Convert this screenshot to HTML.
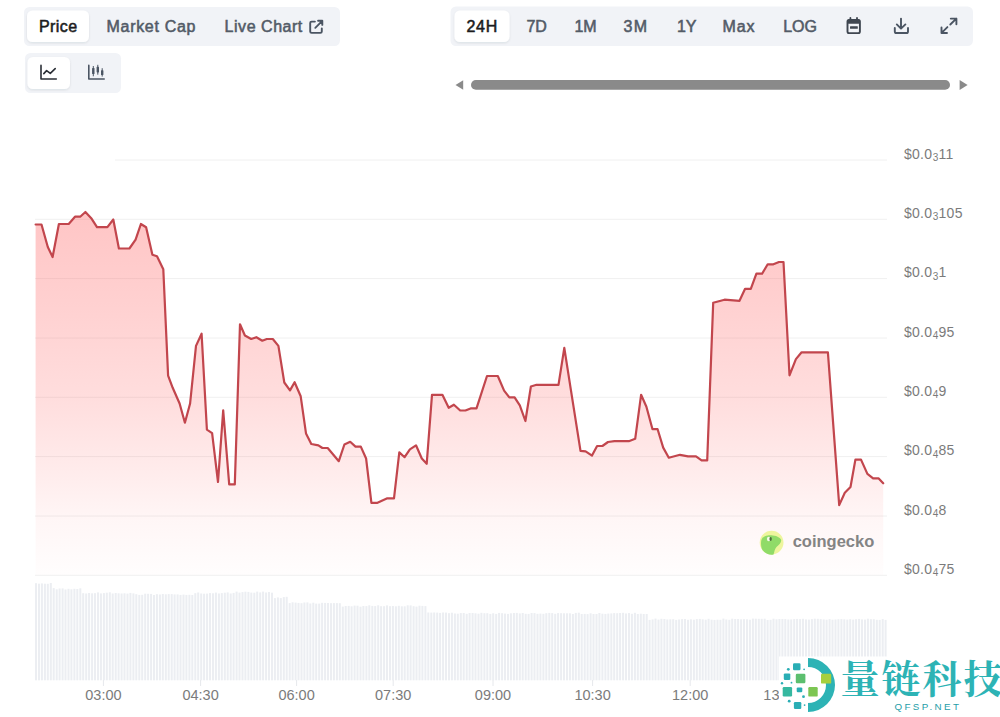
<!DOCTYPE html>
<html>
<head>
<meta charset="utf-8">
<style>
html,body{margin:0;padding:0;background:#fff;}
body{width:1000px;height:717px;overflow:hidden;position:relative;font-family:"Liberation Sans",Arial,sans-serif;}
svg{position:absolute;left:0;top:0;}
.btn{font-size:16px;font-weight:normal;fill:#535b67;stroke:#535b67;stroke-width:0.55px;}
.btn.on{fill:#1c1c1e;stroke:#1c1c1e;}
.ax{font-size:14px;fill:#7b7b7b;letter-spacing:0.25px;}
.ax .sub{font-size:10px;}
.tx{font-size:14.5px;fill:#7b7b7b;}
</style>
</head>
<body>
<svg width="1000" height="717" viewBox="0 0 1000 717">
<defs>
<filter id="sh" x="-20%" y="-30%" width="140%" height="160%">
<feDropShadow dx="0" dy="1" stdDeviation="1.2" flood-color="#1f2937" flood-opacity="0.10"/>
</filter>
<linearGradient id="ag" gradientUnits="userSpaceOnUse" x1="0" y1="212" x2="0" y2="575">
<stop offset="0" stop-color="#ff5050" stop-opacity="0.33"/>
<stop offset="0.24" stop-color="#ff5050" stop-opacity="0.27"/>
<stop offset="0.52" stop-color="#ff5050" stop-opacity="0.19"/>
<stop offset="0.74" stop-color="#ff5050" stop-opacity="0.10"/>
<stop offset="0.85" stop-color="#ff5050" stop-opacity="0.05"/>
<stop offset="1" stop-color="#ff5050" stop-opacity="0.01"/>
</linearGradient>
</defs>

<!-- top-left tab group -->
<rect x="24" y="7" width="316" height="39" rx="5.5" fill="#f1f3f7"/>
<rect x="27" y="10.5" width="62" height="31.5" rx="5.5" fill="#fff" filter="url(#sh)"/>
<text class="btn on" x="39" y="32" letter-spacing="0.4">Price</text>
<text class="btn" x="106.5" y="32" letter-spacing="0.7">Market Cap</text>
<text class="btn" x="224.6" y="32" letter-spacing="0.53">Live Chart</text>
<g fill="none" stroke="#4b5563" stroke-width="1.9" stroke-linecap="round" stroke-linejoin="round">
<path d="M314.9 21.6 H311.6 Q310.2 21.6 310.2 23 V31.5 Q310.2 32.9 311.6 32.9 H320.4 Q321.8 32.9 321.8 31.5 V28.5"/>
<path d="M315.3 27.8 L322 21.1 M318.1 20.7 H322.3 V24.9"/>
</g>

<!-- chart type group -->
<rect x="25" y="53" width="96" height="40" rx="5.5" fill="#f1f3f7"/>
<rect x="27.5" y="57" width="42.5" height="32" rx="5.5" fill="#fff" filter="url(#sh)"/>
<g fill="none" stroke="#2b2f36" stroke-width="1.6" stroke-linecap="round" stroke-linejoin="round">
<path d="M41 65.4 V79 H56.3"/>
<path d="M43.8 73.6 L46.6 70.6 L50.3 73.4 L55.2 68.6"/>
</g>
<g fill="none" stroke="#4b5563" stroke-width="1.6" stroke-linecap="round" stroke-linejoin="round">
<path d="M88.8 65.4 V79 H104.2"/>
<path d="M93.3 66.4 V75.9 M97.8 65.2 V74.3 M102.2 68.6 V76.2" stroke-width="1"/>
</g>
<g fill="#4b5563">
<rect x="92.1" y="68" width="2.4" height="6" rx="0.6"/>
<rect x="96.6" y="66.8" width="2.4" height="5.6" rx="0.6"/>
<rect x="101" y="70.2" width="2.4" height="4.8" rx="0.6"/>
</g>

<!-- time range group -->
<rect x="450.5" y="6.5" width="522.5" height="39.5" rx="5.5" fill="#f1f3f7"/>
<rect x="454.5" y="10.5" width="55" height="31.5" rx="5.5" fill="#fff" filter="url(#sh)"/>
<text class="btn on" x="466.4" y="32" letter-spacing="0.8">24H</text>
<text class="btn" x="526.4" y="32">7D</text>
<text class="btn" x="574.4" y="32">1M</text>
<text class="btn" x="623.6" y="32" letter-spacing="1.2">3M</text>
<text class="btn" x="676.9" y="32">1Y</text>
<text class="btn" x="722.5" y="32" letter-spacing="0.9">Max</text>
<text class="btn" x="783.2" y="32">LOG</text>
<!-- calendar -->
<g fill="#3f4650" stroke="#3f4650" stroke-linecap="round" stroke-linejoin="round">
<rect x="847.5" y="20" width="12.4" height="13.1" rx="1.6" fill="none" stroke-width="1.9"/>
<rect x="847.5" y="19.6" width="12.4" height="4.2" rx="1.2" stroke="none"/>
<path d="M850.4 18 V20.5 M857 18 V20.5" stroke-width="1.8" fill="none"/>
<rect x="850" y="26.2" width="7.8" height="2.6" rx="0.5" stroke="none"/>
</g>
<!-- download -->
<g fill="none" stroke="#4b5563" stroke-width="1.9" stroke-linecap="round" stroke-linejoin="round">
<path d="M901 18.6 V28.4 M896.8 24.4 L901 28.6 L905.4 24.4"/>
<path d="M894.8 28 V31.4 Q894.8 33 896.4 33 H906.4 Q908 33 908 31.4 V28"/>
</g>
<!-- expand -->
<g fill="none" stroke="#4b5563" stroke-width="1.9" stroke-linecap="round" stroke-linejoin="round">
<path d="M950.3 24.5 L956.3 18.6 M950.8 18.6 H956.4 V24.2"/>
<path d="M941.6 32.9 L947.4 27.1 M941.5 27.4 V33 H947"/>
</g>

<!-- scrollbar -->
<path d="M455.5 85 L463.2 80.2 V89.8 Z" fill="#8a8a8a"/>
<rect x="471" y="80" width="479" height="9.8" rx="4.9" fill="#8a8a8a"/>
<path d="M967.6 85 L959.6 80 V90 Z" fill="#8a8a8a"/>

<!-- grid -->
<g stroke="#f0f0f0" stroke-width="1"><line x1="115" x2="887" y1="160" y2="160"/><line x1="35" x2="887" y1="219.3" y2="219.3"/><line x1="35" x2="887" y1="278.6" y2="278.6"/><line x1="35" x2="887" y1="338" y2="338"/><line x1="35" x2="887" y1="397.3" y2="397.3"/><line x1="35" x2="887" y1="456.6" y2="456.6"/><line x1="35" x2="887" y1="516" y2="516"/><line x1="35" x2="887" y1="575.3" y2="575.3"/></g>

<!-- volume -->
<g fill="#eceef2"><rect x="35" y="583.2" width="2.0" height="97.1"/><rect x="38" y="583.7" width="2.0" height="96.6"/><rect x="40.9" y="583.4" width="2.0" height="96.9"/><rect x="43.9" y="583.7" width="2.0" height="96.6"/><rect x="46.8" y="583.8" width="2.0" height="96.5"/><rect x="49.8" y="583" width="2.0" height="97.3"/><rect x="52.7" y="588.1" width="2.0" height="92.2"/><rect x="55.7" y="589.3" width="2.0" height="91"/><rect x="58.6" y="588.5" width="2.0" height="91.8"/><rect x="61.6" y="588.4" width="2.0" height="91.9"/><rect x="64.5" y="589.5" width="2.0" height="90.8"/><rect x="67.5" y="588.8" width="2.0" height="91.5"/><rect x="70.4" y="589.3" width="2.0" height="91"/><rect x="73.4" y="588.8" width="2.0" height="91.5"/><rect x="76.3" y="589" width="2.0" height="91.3"/><rect x="79.3" y="588.3" width="2.0" height="92"/><rect x="82.2" y="593.2" width="2.0" height="87.1"/><rect x="85.2" y="593.5" width="2.0" height="86.8"/><rect x="88.1" y="593" width="2.0" height="87.3"/><rect x="91.1" y="593.3" width="2.0" height="87"/><rect x="94" y="593.2" width="2.0" height="87.1"/><rect x="97" y="592.4" width="2.0" height="87.9"/><rect x="99.9" y="593.4" width="2.0" height="86.9"/><rect x="102.9" y="593.1" width="2.0" height="87.2"/><rect x="105.8" y="592.7" width="2.0" height="87.6"/><rect x="108.8" y="592.3" width="2.0" height="88"/><rect x="111.7" y="593.5" width="2.0" height="86.8"/><rect x="114.7" y="593" width="2.0" height="87.3"/><rect x="117.6" y="593.3" width="2.0" height="87"/><rect x="120.6" y="593.5" width="2.0" height="86.8"/><rect x="123.5" y="593.3" width="2.0" height="87"/><rect x="126.5" y="593.6" width="2.0" height="86.7"/><rect x="129.4" y="592.9" width="2.0" height="87.4"/><rect x="132.4" y="593.4" width="2.0" height="86.9"/><rect x="135.3" y="594.2" width="2.0" height="86.1"/><rect x="138.3" y="594.9" width="2.0" height="85.4"/><rect x="141.2" y="594.8" width="2.0" height="85.5"/><rect x="144.2" y="593.7" width="2.0" height="86.6"/><rect x="147.1" y="593.8" width="2.0" height="86.5"/><rect x="150.1" y="593.9" width="2.0" height="86.4"/><rect x="153" y="595" width="2.0" height="85.3"/><rect x="155.9" y="594.2" width="2.0" height="86.1"/><rect x="158.9" y="594.5" width="2.0" height="85.8"/><rect x="161.8" y="594" width="2.0" height="86.3"/><rect x="164.8" y="594.3" width="2.0" height="86"/><rect x="167.7" y="594.1" width="2.0" height="86.2"/><rect x="170.7" y="594.1" width="2.0" height="86.2"/><rect x="173.6" y="594.4" width="2.0" height="85.9"/><rect x="176.6" y="594.4" width="2.0" height="85.9"/><rect x="179.5" y="594.9" width="2.0" height="85.4"/><rect x="182.5" y="594.6" width="2.0" height="85.7"/><rect x="185.4" y="594.9" width="2.0" height="85.4"/><rect x="188.4" y="594.8" width="2.0" height="85.5"/><rect x="191.3" y="595" width="2.0" height="85.3"/><rect x="194.3" y="593.2" width="2.0" height="87.1"/><rect x="197.2" y="592.5" width="2.0" height="87.8"/><rect x="200.2" y="593.5" width="2.0" height="86.8"/><rect x="203.1" y="593.7" width="2.0" height="86.6"/><rect x="206.1" y="593.6" width="2.0" height="86.7"/><rect x="209" y="593.1" width="2.0" height="87.2"/><rect x="212" y="593.3" width="2.0" height="87"/><rect x="214.9" y="592.6" width="2.0" height="87.7"/><rect x="217.9" y="593.5" width="2.0" height="86.8"/><rect x="220.8" y="593.1" width="2.0" height="87.2"/><rect x="223.8" y="592.7" width="2.0" height="87.6"/><rect x="226.7" y="592.4" width="2.0" height="87.9"/><rect x="229.7" y="593.5" width="2.0" height="86.8"/><rect x="232.6" y="592.9" width="2.0" height="87.4"/><rect x="235.6" y="591.6" width="2.0" height="88.7"/><rect x="238.5" y="592.6" width="2.0" height="87.7"/><rect x="241.5" y="592.1" width="2.0" height="88.2"/><rect x="244.4" y="591.7" width="2.0" height="88.6"/><rect x="247.4" y="591.9" width="2.0" height="88.4"/><rect x="250.3" y="592.6" width="2.0" height="87.7"/><rect x="253.3" y="592.7" width="2.0" height="87.6"/><rect x="256.2" y="591.6" width="2.0" height="88.7"/><rect x="259.2" y="592.4" width="2.0" height="87.9"/><rect x="262.1" y="591.6" width="2.0" height="88.7"/><rect x="265.1" y="592.5" width="2.0" height="87.8"/><rect x="268" y="592" width="2.0" height="88.3"/><rect x="271" y="592.7" width="2.0" height="87.6"/><rect x="273.9" y="598.1" width="2.0" height="82.2"/><rect x="276.9" y="597.4" width="2.0" height="82.9"/><rect x="279.8" y="598.1" width="2.0" height="82.2"/><rect x="282.8" y="597.1" width="2.0" height="83.2"/><rect x="285.7" y="596.8" width="2.0" height="83.5"/><rect x="288.7" y="603.1" width="2.0" height="77.2"/><rect x="291.6" y="602.3" width="2.0" height="78"/><rect x="294.6" y="602.6" width="2.0" height="77.7"/><rect x="297.5" y="602.9" width="2.0" height="77.4"/><rect x="300.5" y="603.2" width="2.0" height="77.1"/><rect x="303.4" y="602.5" width="2.0" height="77.8"/><rect x="306.4" y="602.4" width="2.0" height="77.9"/><rect x="309.3" y="603.5" width="2.0" height="76.8"/><rect x="312.3" y="602.7" width="2.0" height="77.6"/><rect x="315.2" y="603.6" width="2.0" height="76.7"/><rect x="318.2" y="603.6" width="2.0" height="76.7"/><rect x="321.1" y="602.8" width="2.0" height="77.5"/><rect x="324.1" y="602.9" width="2.0" height="77.4"/><rect x="327" y="603" width="2.0" height="77.3"/><rect x="330" y="603.2" width="2.0" height="77.1"/><rect x="332.9" y="603.1" width="2.0" height="77.2"/><rect x="335.9" y="603.1" width="2.0" height="77.2"/><rect x="338.8" y="603.2" width="2.0" height="77.1"/><rect x="341.8" y="606.6" width="2.0" height="73.7"/><rect x="344.7" y="606" width="2.0" height="74.3"/><rect x="347.7" y="605.9" width="2.0" height="74.4"/><rect x="350.6" y="606.3" width="2.0" height="74"/><rect x="353.6" y="605.6" width="2.0" height="74.7"/><rect x="356.5" y="605.7" width="2.0" height="74.6"/><rect x="359.5" y="606.7" width="2.0" height="73.6"/><rect x="362.4" y="606" width="2.0" height="74.3"/><rect x="365.4" y="606.1" width="2.0" height="74.2"/><rect x="368.3" y="605.3" width="2.0" height="75"/><rect x="371.3" y="605.9" width="2.0" height="74.4"/><rect x="374.2" y="606.1" width="2.0" height="74.2"/><rect x="377.2" y="605.3" width="2.0" height="75"/><rect x="380.1" y="606.2" width="2.0" height="74.1"/><rect x="383.1" y="606.2" width="2.0" height="74.1"/><rect x="386" y="605.4" width="2.0" height="74.9"/><rect x="389" y="606.2" width="2.0" height="74.1"/><rect x="391.9" y="606" width="2.0" height="74.3"/><rect x="394.9" y="606.3" width="2.0" height="74"/><rect x="397.8" y="605.8" width="2.0" height="74.5"/><rect x="400.8" y="606.3" width="2.0" height="74"/><rect x="403.7" y="606.3" width="2.0" height="74"/><rect x="406.7" y="605.3" width="2.0" height="75"/><rect x="409.6" y="605.4" width="2.0" height="74.9"/><rect x="412.6" y="606.2" width="2.0" height="74.1"/><rect x="415.5" y="606.6" width="2.0" height="73.7"/><rect x="418.5" y="605.7" width="2.0" height="74.6"/><rect x="421.4" y="605.9" width="2.0" height="74.4"/><rect x="424.4" y="606.1" width="2.0" height="74.2"/><rect x="427.3" y="612.5" width="2.0" height="67.8"/><rect x="430.3" y="612.6" width="2.0" height="67.7"/><rect x="433.2" y="612.5" width="2.0" height="67.8"/><rect x="436.2" y="612.6" width="2.0" height="67.7"/><rect x="439.1" y="612.9" width="2.0" height="67.4"/><rect x="442.1" y="612.5" width="2.0" height="67.8"/><rect x="445" y="612.6" width="2.0" height="67.7"/><rect x="448" y="613.2" width="2.0" height="67.1"/><rect x="450.9" y="612.7" width="2.0" height="67.6"/><rect x="453.9" y="613.5" width="2.0" height="66.8"/><rect x="456.8" y="613.7" width="2.0" height="66.6"/><rect x="459.8" y="613.1" width="2.0" height="67.2"/><rect x="462.7" y="613" width="2.0" height="67.3"/><rect x="465.7" y="613.8" width="2.0" height="66.5"/><rect x="468.6" y="613" width="2.0" height="67.3"/><rect x="471.6" y="613" width="2.0" height="67.3"/><rect x="474.5" y="613.3" width="2.0" height="67"/><rect x="477.5" y="613.7" width="2.0" height="66.6"/><rect x="480.4" y="612.8" width="2.0" height="67.5"/><rect x="483.4" y="613.2" width="2.0" height="67.1"/><rect x="486.3" y="613.2" width="2.0" height="67.1"/><rect x="489.3" y="613.9" width="2.0" height="66.4"/><rect x="492.2" y="613.3" width="2.0" height="67"/><rect x="495.2" y="613.9" width="2.0" height="66.4"/><rect x="498.1" y="612.9" width="2.0" height="67.4"/><rect x="501.1" y="613.2" width="2.0" height="67.1"/><rect x="504" y="613.6" width="2.0" height="66.7"/><rect x="507" y="613.9" width="2.0" height="66.4"/><rect x="509.9" y="613.3" width="2.0" height="67"/><rect x="512.9" y="613" width="2.0" height="67.3"/><rect x="515.8" y="612.9" width="2.0" height="67.4"/><rect x="518.8" y="613.4" width="2.0" height="66.9"/><rect x="521.7" y="613" width="2.0" height="67.3"/><rect x="524.7" y="613.8" width="2.0" height="66.5"/><rect x="527.6" y="613.9" width="2.0" height="66.4"/><rect x="530.6" y="613" width="2.0" height="67.3"/><rect x="533.5" y="613.1" width="2.0" height="67.2"/><rect x="536.5" y="613.8" width="2.0" height="66.5"/><rect x="539.4" y="613.6" width="2.0" height="66.7"/><rect x="542.4" y="613.8" width="2.0" height="66.5"/><rect x="545.3" y="613.2" width="2.0" height="67.1"/><rect x="548.3" y="612.9" width="2.0" height="67.4"/><rect x="551.2" y="613.1" width="2.0" height="67.2"/><rect x="554.2" y="613.8" width="2.0" height="66.5"/><rect x="557.1" y="613.1" width="2.0" height="67.2"/><rect x="560.1" y="613.2" width="2.0" height="67.1"/><rect x="563" y="613.3" width="2.0" height="67"/><rect x="566" y="613.3" width="2.0" height="67"/><rect x="568.9" y="613.3" width="2.0" height="67"/><rect x="571.9" y="614" width="2.0" height="66.3"/><rect x="574.8" y="612.9" width="2.0" height="67.4"/><rect x="577.8" y="612.7" width="2.0" height="67.6"/><rect x="580.7" y="614" width="2.0" height="66.3"/><rect x="583.7" y="613.9" width="2.0" height="66.4"/><rect x="586.6" y="614.1" width="2.0" height="66.2"/><rect x="589.6" y="613.3" width="2.0" height="67"/><rect x="592.5" y="614" width="2.0" height="66.3"/><rect x="595.5" y="614" width="2.0" height="66.3"/><rect x="598.4" y="613" width="2.0" height="67.3"/><rect x="601.4" y="613.7" width="2.0" height="66.6"/><rect x="604.4" y="613.9" width="2.0" height="66.4"/><rect x="607.3" y="613.6" width="2.0" height="66.7"/><rect x="610.3" y="613.4" width="2.0" height="66.9"/><rect x="613.2" y="613.1" width="2.0" height="67.2"/><rect x="616.2" y="613.2" width="2.0" height="67.1"/><rect x="619.1" y="613" width="2.0" height="67.3"/><rect x="622.1" y="612.8" width="2.0" height="67.5"/><rect x="625" y="613.5" width="2.0" height="66.8"/><rect x="628" y="613.1" width="2.0" height="67.2"/><rect x="630.9" y="613.8" width="2.0" height="66.5"/><rect x="633.9" y="612.8" width="2.0" height="67.5"/><rect x="636.8" y="614" width="2.0" height="66.3"/><rect x="639.8" y="613.7" width="2.0" height="66.6"/><rect x="642.7" y="614" width="2.0" height="66.3"/><rect x="645.7" y="614" width="2.0" height="66.3"/><rect x="648.6" y="619.9" width="2.0" height="60.4"/><rect x="651.6" y="619.4" width="2.0" height="60.9"/><rect x="654.5" y="618.6" width="2.0" height="61.7"/><rect x="657.5" y="619.6" width="2.0" height="60.7"/><rect x="660.4" y="618.8" width="2.0" height="61.5"/><rect x="663.4" y="619" width="2.0" height="61.3"/><rect x="666.3" y="619.5" width="2.0" height="60.8"/><rect x="669.3" y="619.3" width="2.0" height="61"/><rect x="672.2" y="619.2" width="2.0" height="61.1"/><rect x="675.2" y="619.9" width="2.0" height="60.4"/><rect x="678.1" y="619.5" width="2.0" height="60.8"/><rect x="681.1" y="619.1" width="2.0" height="61.2"/><rect x="684" y="619" width="2.0" height="61.3"/><rect x="687" y="619.8" width="2.0" height="60.5"/><rect x="689.9" y="619.3" width="2.0" height="61"/><rect x="692.9" y="619.7" width="2.0" height="60.6"/><rect x="695.8" y="619.1" width="2.0" height="61.2"/><rect x="698.8" y="618.9" width="2.0" height="61.4"/><rect x="701.7" y="619.3" width="2.0" height="61"/><rect x="704.7" y="619.7" width="2.0" height="60.6"/><rect x="707.6" y="618.8" width="2.0" height="61.5"/><rect x="710.6" y="619.7" width="2.0" height="60.6"/><rect x="713.5" y="619.9" width="2.0" height="60.4"/><rect x="716.5" y="619.7" width="2.0" height="60.6"/><rect x="719.4" y="619.8" width="2.0" height="60.5"/><rect x="722.4" y="618.6" width="2.0" height="61.7"/><rect x="725.3" y="619.5" width="2.0" height="60.8"/><rect x="728.3" y="619.8" width="2.0" height="60.5"/><rect x="731.2" y="618.7" width="2.0" height="61.6"/><rect x="734.2" y="619" width="2.0" height="61.3"/><rect x="737.1" y="619" width="2.0" height="61.3"/><rect x="740.1" y="619.3" width="2.0" height="61"/><rect x="743" y="619.2" width="2.0" height="61.1"/><rect x="746" y="619.3" width="2.0" height="61"/><rect x="748.9" y="619.7" width="2.0" height="60.6"/><rect x="751.9" y="618.6" width="2.0" height="61.7"/><rect x="754.8" y="618.7" width="2.0" height="61.6"/><rect x="757.8" y="618.8" width="2.0" height="61.5"/><rect x="760.7" y="618.8" width="2.0" height="61.5"/><rect x="763.7" y="618.7" width="2.0" height="61.6"/><rect x="766.6" y="620" width="2.0" height="60.3"/><rect x="769.6" y="619.8" width="2.0" height="60.5"/><rect x="772.5" y="618.7" width="2.0" height="61.6"/><rect x="775.5" y="619.3" width="2.0" height="61"/><rect x="778.4" y="619" width="2.0" height="61.3"/><rect x="781.4" y="619" width="2.0" height="61.3"/><rect x="784.3" y="619.1" width="2.0" height="61.2"/><rect x="787.3" y="619.5" width="2.0" height="60.8"/><rect x="790.2" y="619.4" width="2.0" height="60.9"/><rect x="793.2" y="619.1" width="2.0" height="61.2"/><rect x="796.1" y="618.9" width="2.0" height="61.4"/><rect x="799.1" y="619.1" width="2.0" height="61.2"/><rect x="802" y="618.8" width="2.0" height="61.5"/><rect x="805" y="619.4" width="2.0" height="60.9"/><rect x="807.9" y="619.6" width="2.0" height="60.7"/><rect x="810.9" y="619.1" width="2.0" height="61.2"/><rect x="813.8" y="618.7" width="2.0" height="61.6"/><rect x="816.8" y="618.8" width="2.0" height="61.5"/><rect x="819.7" y="619.1" width="2.0" height="61.2"/><rect x="822.7" y="619.4" width="2.0" height="60.9"/><rect x="825.6" y="619.7" width="2.0" height="60.6"/><rect x="828.6" y="619.1" width="2.0" height="61.2"/><rect x="831.5" y="619.7" width="2.0" height="60.6"/><rect x="834.5" y="619.5" width="2.0" height="60.8"/><rect x="837.4" y="619.2" width="2.0" height="61.1"/><rect x="840.4" y="619.1" width="2.0" height="61.2"/><rect x="843.3" y="619.3" width="2.0" height="61"/><rect x="846.3" y="619.6" width="2.0" height="60.7"/><rect x="849.2" y="619.2" width="2.0" height="61.1"/><rect x="852.2" y="619.6" width="2.0" height="60.7"/><rect x="855.1" y="619.2" width="2.0" height="61.1"/><rect x="858.1" y="618.9" width="2.0" height="61.4"/><rect x="861" y="619.4" width="2.0" height="60.9"/><rect x="864" y="619.6" width="2.0" height="60.7"/><rect x="866.9" y="618.7" width="2.0" height="61.6"/><rect x="869.9" y="619.2" width="2.0" height="61.1"/><rect x="872.8" y="619.2" width="2.0" height="61.1"/><rect x="875.8" y="619.8" width="2.0" height="60.5"/><rect x="878.7" y="619.9" width="2.0" height="60.4"/><rect x="881.7" y="619.1" width="2.0" height="61.2"/><rect x="884.6" y="619.9" width="2.0" height="60.4"/></g>
<g stroke="#e6e8ec" stroke-width="1"><line x1="103.4" x2="103.4" y1="680" y2="686"/><line x1="200.6" x2="200.6" y1="680" y2="686"/><line x1="296.6" x2="296.6" y1="680" y2="686"/><line x1="393.2" x2="393.2" y1="680" y2="686"/><line x1="493" x2="493" y1="680" y2="686"/><line x1="592.6" x2="592.6" y1="680" y2="686"/><line x1="690.2" x2="690.2" y1="680" y2="686"/><line x1="781.5" x2="781.5" y1="680" y2="686"/></g>

<!-- area + line -->
<path d="M35.6 224.5 L41.5 224.5 L47.8 247 L52.6 257 L58.9 224 L68.7 224 L75 216.7 L80.2 216.7 L85.4 212 L91.7 218.8 L97 227.2 L107.4 227.2 L113.3 219.5 L118.9 248.5 L129.4 248.5 L135.6 239.7 L140.9 224 L146.1 227.2 L152.4 254.8 L157 256.3 L163.3 269.2 L168.1 375.6 L172.7 387.8 L179.6 403.5 L184.9 422.7 L190.1 403.5 L196 345.9 L201.6 333.7 L206.9 429.6 L212.1 433.1 L218 482 L223.2 410.4 L229.2 484.4 L234.8 484.4 L240 324.3 L244.9 335.5 L251.2 339 L256.4 337.2 L262.3 340.7 L266.8 339 L272.8 339 L278.4 345.9 L284.3 382.5 L290 390.4 L294.6 382.2 L300.7 396.3 L306 433.4 L311.3 444 L318.4 445.3 L322.4 448 L327.7 448 L338.8 461.2 L344.4 444.5 L350.2 441.8 L355.5 446.6 L360.8 446.6 L366.1 458.5 L371.4 502.8 L377.5 502.8 L387.3 498.3 L394 498.3 L399.3 452.4 L404.6 457.2 L409.9 449.3 L416 445.3 L421.8 458.5 L426.7 463.8 L432 394.8 L442.4 394.8 L448.7 407.8 L453.9 404.7 L460.2 410.5 L465.4 410.5 L470.6 408.4 L476.5 408.4 L487 376 L497.8 376 L504.1 390.6 L509.3 397.3 L514.6 397.3 L519.8 405.3 L525.4 421 L530.9 386.5 L536.5 384.8 L558.5 384.8 L564.3 347.8 L571 390.6 L580.5 450.8 L585.6 451.3 L592 455.6 L597.1 446 L602.4 446 L608 442 L614.4 441.2 L628.8 441.2 L635.2 438.8 L641.1 394.8 L646.4 406.8 L652.5 429.2 L657.6 429.2 L663.2 447.6 L668.8 457.7 L680 454.8 L688 456.4 L696 456.4 L701.6 460.4 L707.2 460.4 L713.2 302.7 L724.5 299.7 L739.5 300.8 L745.1 288.8 L750.8 288.8 L756.4 273.7 L762.1 273.7 L767.7 264.3 L773.4 264.3 L779 262 L783.5 262 L789.5 375.3 L795.9 359.1 L801.6 352.3 L827.9 352.3 L839.2 505.1 L844.8 492.7 L850.5 487 L855.4 459.6 L861 459.6 L867.4 473.9 L873.1 478.4 L878.7 478.4 L883.2 483.3 L883.2 575 L35.6 575 Z" fill="url(#ag)"/>
<path d="M35.6 224.5 L41.5 224.5 L47.8 247 L52.6 257 L58.9 224 L68.7 224 L75 216.7 L80.2 216.7 L85.4 212 L91.7 218.8 L97 227.2 L107.4 227.2 L113.3 219.5 L118.9 248.5 L129.4 248.5 L135.6 239.7 L140.9 224 L146.1 227.2 L152.4 254.8 L157 256.3 L163.3 269.2 L168.1 375.6 L172.7 387.8 L179.6 403.5 L184.9 422.7 L190.1 403.5 L196 345.9 L201.6 333.7 L206.9 429.6 L212.1 433.1 L218 482 L223.2 410.4 L229.2 484.4 L234.8 484.4 L240 324.3 L244.9 335.5 L251.2 339 L256.4 337.2 L262.3 340.7 L266.8 339 L272.8 339 L278.4 345.9 L284.3 382.5 L290 390.4 L294.6 382.2 L300.7 396.3 L306 433.4 L311.3 444 L318.4 445.3 L322.4 448 L327.7 448 L338.8 461.2 L344.4 444.5 L350.2 441.8 L355.5 446.6 L360.8 446.6 L366.1 458.5 L371.4 502.8 L377.5 502.8 L387.3 498.3 L394 498.3 L399.3 452.4 L404.6 457.2 L409.9 449.3 L416 445.3 L421.8 458.5 L426.7 463.8 L432 394.8 L442.4 394.8 L448.7 407.8 L453.9 404.7 L460.2 410.5 L465.4 410.5 L470.6 408.4 L476.5 408.4 L487 376 L497.8 376 L504.1 390.6 L509.3 397.3 L514.6 397.3 L519.8 405.3 L525.4 421 L530.9 386.5 L536.5 384.8 L558.5 384.8 L564.3 347.8 L571 390.6 L580.5 450.8 L585.6 451.3 L592 455.6 L597.1 446 L602.4 446 L608 442 L614.4 441.2 L628.8 441.2 L635.2 438.8 L641.1 394.8 L646.4 406.8 L652.5 429.2 L657.6 429.2 L663.2 447.6 L668.8 457.7 L680 454.8 L688 456.4 L696 456.4 L701.6 460.4 L707.2 460.4 L713.2 302.7 L724.5 299.7 L739.5 300.8 L745.1 288.8 L750.8 288.8 L756.4 273.7 L762.1 273.7 L767.7 264.3 L773.4 264.3 L779 262 L783.5 262 L789.5 375.3 L795.9 359.1 L801.6 352.3 L827.9 352.3 L839.2 505.1 L844.8 492.7 L850.5 487 L855.4 459.6 L861 459.6 L867.4 473.9 L873.1 478.4 L878.7 478.4 L883.2 483.3" fill="none" stroke="#c2464d" stroke-width="2.2" stroke-linejoin="round" stroke-linecap="round"/>

<!-- y labels -->
<g class="ax"><text x="904" y="158.8">$0.0<tspan class="sub" dx="0.5" dy="2.2">3</tspan><tspan dy="-2.2">11</tspan></text><text x="904" y="218.1">$0.0<tspan class="sub" dx="0.5" dy="2.2">3</tspan><tspan dy="-2.2">105</tspan></text><text x="904" y="277.4">$0.0<tspan class="sub" dx="0.5" dy="2.2">3</tspan><tspan dy="-2.2">1</tspan></text><text x="904" y="336.8">$0.0<tspan class="sub" dx="0.5" dy="2.2">4</tspan><tspan dy="-2.2">95</tspan></text><text x="904" y="396.1">$0.0<tspan class="sub" dx="0.5" dy="2.2">4</tspan><tspan dy="-2.2">9</tspan></text><text x="904" y="455.4">$0.0<tspan class="sub" dx="0.5" dy="2.2">4</tspan><tspan dy="-2.2">85</tspan></text><text x="904" y="514.8">$0.0<tspan class="sub" dx="0.5" dy="2.2">4</tspan><tspan dy="-2.2">8</tspan></text><text x="904" y="574.1">$0.0<tspan class="sub" dx="0.5" dy="2.2">4</tspan><tspan dy="-2.2">75</tspan></text></g>

<!-- x labels -->
<g class="tx"><text x="103.4" y="700.3" text-anchor="middle">03:00</text><text x="200.6" y="700.3" text-anchor="middle">04:30</text><text x="296.6" y="700.3" text-anchor="middle">06:00</text><text x="393.2" y="700.3" text-anchor="middle">07:30</text><text x="493" y="700.3" text-anchor="middle">09:00</text><text x="592.6" y="700.3" text-anchor="middle">10:30</text><text x="690.2" y="700.3" text-anchor="middle">12:00</text><text x="781.5" y="700.3" text-anchor="middle">13:30</text></g>

<!-- coingecko watermark -->
<g>
<circle cx="771.6" cy="542.6" r="11.9" fill="#eef59e"/>
<path d="M761 543 C761 538 764 535.6 768 535.4 C773 535.2 778.5 536 781 539.5 C782 542 779 545 776.5 547 C774.5 549 774.5 552 773.5 554.5 C770 555.2 765 554 762.5 550 C761.3 548 761 545.5 761 543 Z" fill="#90db68"/>
<ellipse cx="768.8" cy="539" rx="1.9" ry="2.3" fill="#f4fbe8"/>
<ellipse cx="770.6" cy="539" rx="1.2" ry="1.9" fill="#4c6a3c"/>
<text x="792.7" y="546.6" font-size="16.5" font-weight="bold" fill="#848484" letter-spacing="0">coingecko</text>
</g>

<!-- bottom-right watermark logo -->
<rect x="779" y="656.5" width="221" height="61" fill="#fff"/>
<g>
<path d="M808 658 A27 27 0 0 1 808 712 L808 703 A18 18 0 0 0 808 667 Z" fill="#2db3b5"/>
<rect x="793" y="663.2" width="7.5" height="7" rx="1.2" fill="#2aaeb5"/>
<rect x="783.8" y="673.4" width="6.5" height="6.5" rx="1.2" fill="#2aaeb5"/>
<rect x="795.8" y="673.8" width="9.6" height="9.4" rx="1.2" fill="#5cbf6f"/>
<rect x="821" y="673.8" width="10.2" height="9.8" rx="1.2" fill="#a6cf3d"/>
<rect x="782.7" y="687" width="9.4" height="9.4" rx="1.2" fill="#35b8a0"/>
<rect x="796.7" y="687.4" width="5.6" height="4.8" rx="1.2" fill="#2aaeb5"/>
<rect x="808.3" y="687" width="9.4" height="9.6" rx="1.2" fill="#7cc653"/>
<rect x="793.9" y="702" width="7.4" height="7" rx="1.2" fill="#2aaeb5"/>
<circle cx="788.3" cy="669.3" r="1.4" fill="#2aaeb5"/>
<circle cx="804.1" cy="669.3" r="0.9" fill="#2aaeb5"/>
<circle cx="782" cy="683.2" r="1.2" fill="#2aaeb5"/>
<circle cx="791.5" cy="682.7" r="0.9" fill="#2aaeb5"/>
<circle cx="789.2" cy="701.2" r="1.4" fill="#2aaeb5"/>
<circle cx="803.5" cy="696.7" r="1.4" fill="#2aaeb5"/>
<circle cx="804.6" cy="705.1" r="0.9" fill="#2aaeb5"/>
</g>
<text x="840.5" y="693.2" font-family="'Liberation Serif','Noto Serif CJK SC',serif" font-size="39" font-weight="700" fill="#2db3b5" letter-spacing="2">量链科技</text>
<text x="894.4" y="709.8" font-family="'Liberation Sans',sans-serif" font-size="9.8" fill="#259ea8" letter-spacing="2.4">QFSP.NET</text>
</svg>
</body>
</html>
